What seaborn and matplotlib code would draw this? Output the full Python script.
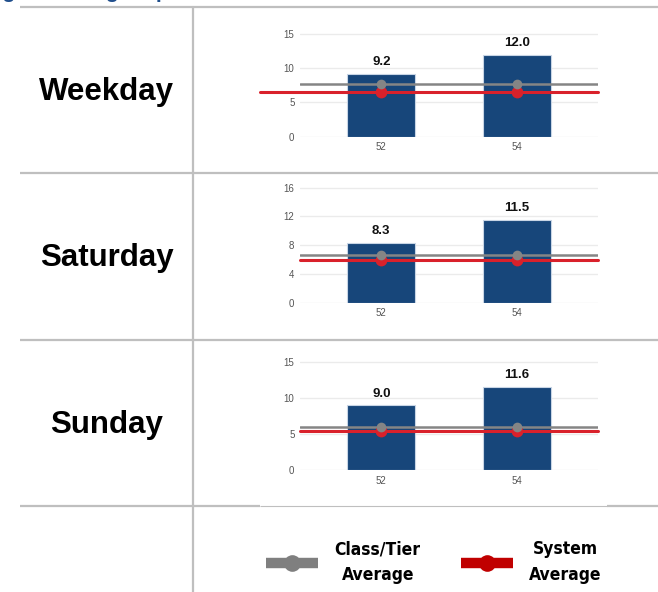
import matplotlib
matplotlib.use("Agg")
import matplotlib.pyplot as plt
from matplotlib.lines import Line2D
from matplotlib import font_manager as fm
import seaborn as sns
import pandas as pd

# ---- data -------------------------------------------------------------
day_types = ["Weekday", "Saturday", "Sunday"]
routes = ["52", "54"]
route_values = {
    "Weekday": [9.2, 12.0],
    "Saturday": [8.3, 11.5],
    "Sunday": [9.0, 11.6],
}
class_tier_avg = {"Weekday": 7.7, "Saturday": 6.6, "Sunday": 6.0}
system_avg = {"Weekday": 6.5, "Saturday": 6.0, "Sunday": 5.4}
y_ticks = {
    "Weekday": [0, 5, 10, 15],
    "Saturday": [0, 4, 8, 12, 16],
    "Sunday": [0, 5, 10, 15],
}
y_top = {"Weekday": 16.5, "Saturday": 17.0, "Sunday": 16.0}
title_text = "Average Passengers per Revenue Hour"

# ---- style ------------------------------------------------------------
sns.set_theme(style="white")
plt.rcParams["font.family"] = ["Liberation Sans", "DejaVu Sans"]

BAR = "#17467A"
GRAY = "#858585"
RED = "#D9212B"
LEGEND_RED = "#C00000"
RULE = "#BFBFBF"


def narrow_font():
    """Pick a condensed bold face if one is installed."""
    names = {f.name for f in fm.fontManager.ttflist}
    if "Liberation Sans Narrow" in names:
        return {"family": ["Liberation Sans Narrow", "DejaVu Sans"], "size": 14}
    if "DejaVu Sans Condensed" in names:
        return {"family": ["DejaVu Sans Condensed", "DejaVu Sans"], "size": 12.5}
    for f in fm.fontManager.ttflist:
        if f.name.startswith("DejaVu Sans") and str(f.stretch) in ("condensed", "semi-condensed"):
            return {"family": [f.name], "stretch": "condensed", "size": 12.5}
    return {"family": ["Liberation Sans", "DejaVu Sans"], "size": 12}


W, H = 658, 592
fig = plt.figure(figsize=(W / 100, H / 100), dpi=100)
fig.patch.set_facecolor("white")


def fx(px):
    return px / W


def fy(py):
    return 1 - py / H


# ---- table rules --------------------------------------------------------
def hline(y, x0, x1, lw=1.6):
    fig.add_artist(Line2D([fx(x0), fx(x1)], [fy(y), fy(y)], color=RULE, lw=lw,
                          transform=fig.transFigure, solid_capstyle="butt"))


for y in (7, 173, 340):
    hline(y, 20, W)
hline(506, 20, 260)
hline(506, 260, 607, lw=0.8)
hline(506, 607, W)
fig.add_artist(Line2D([fx(193), fx(193)], [fy(7), fy(H)], color=RULE, lw=1.6,
                      transform=fig.transFigure))

# heading sits above the top edge; only its descenders reach the page
fig.text(fx(-55), fy(-2), title_text, color="#1F4E8C", fontsize=15,
         fontweight="bold", ha="left", va="baseline")

# ---- row panels ---------------------------------------------------------
zero_px = {"Weekday": 136.7, "Saturday": 302.7, "Sunday": 470.0}
px_per_unit = {"Weekday": 6.84, "Saturday": 7.19, "Sunday": 7.18}
label_y = {"Weekday": 92, "Saturday": 258, "Sunday": 425}

for day in day_types:
    height_px = y_top[day] * px_per_unit[day]
    ax = fig.add_axes([fx(300), fy(zero_px[day]), fx(298), height_px / H])
    df = pd.DataFrame({"route": routes, "value": route_values[day]})
    sns.barplot(data=df, x="route", y="value", ax=ax, color=BAR, width=0.5,
                edgecolor="#C8D5E5", linewidth=0.8, saturation=1, zorder=2)
    ax.bar_label(ax.containers[0], fmt="%.1f", padding=4, fontsize=9.5,
                 fontweight="bold", color="#111111")

    xs = list(range(len(routes)))
    red_xmin = -0.134 if day == "Weekday" else 0
    ax.axhline(class_tier_avg[day], color=GRAY, lw=1.8, zorder=3)
    ax.axhline(system_avg[day], xmin=red_xmin, color=RED, lw=2.2, zorder=4,
               clip_on=False)
    ax.plot(xs, [system_avg[day]] * len(xs), "o", color=RED, ms=8.5, mew=0, zorder=5)
    ax.plot(xs, [class_tier_avg[day]] * len(xs), "o", color=GRAY, ms=7, mew=0,
            zorder=6)

    ax.set_xlim(-0.6, 1.6)
    ax.set_ylim(0, y_top[day])
    ax.set_yticks(y_ticks[day])
    ax.yaxis.grid(True, color="#EBEBEB", lw=1)
    ax.xaxis.grid(False)
    ax.set_axisbelow(True)
    for s in ax.spines.values():
        s.set_visible(False)
    ax.tick_params(axis="both", length=0, labelsize=7, labelcolor="#555555")
    ax.tick_params(axis="y", pad=4)
    ax.tick_params(axis="x", pad=4)
    ax.set_xlabel("")
    ax.set_ylabel("")
    ax.patch.set_alpha(0)

    fig.text(fx(106.5), fy(label_y[day]), day, fontsize=22.5, fontweight="bold",
             ha="center", va="center", color="black")

# ---- legend -------------------------------------------------------------
handles = [
    Line2D([], [], color="#7F7F7F", lw=7.5, marker="o", ms=12, mew=0,
           solid_capstyle="butt"),
    Line2D([], [], color=LEGEND_RED, lw=7.5, marker="o", ms=12, mew=0,
           solid_capstyle="butt"),
]
prop = dict(narrow_font())
prop["weight"] = "bold"
leg = fig.legend(handles, ["Class/Tier\nAverage", "System\nAverage"],
                 loc="center", bbox_to_anchor=(fx(434), fy(562)), ncol=2,
                 frameon=False, numpoints=1, handlelength=3.0,
                 handletextpad=0.95, columnspacing=2.3, prop=prop)
for t in leg.get_texts():
    t.set_multialignment("center")
    t.set_linespacing(1.5)
    t.set_color("black")

fig.savefig("out.png", dpi=100, facecolor="white")
